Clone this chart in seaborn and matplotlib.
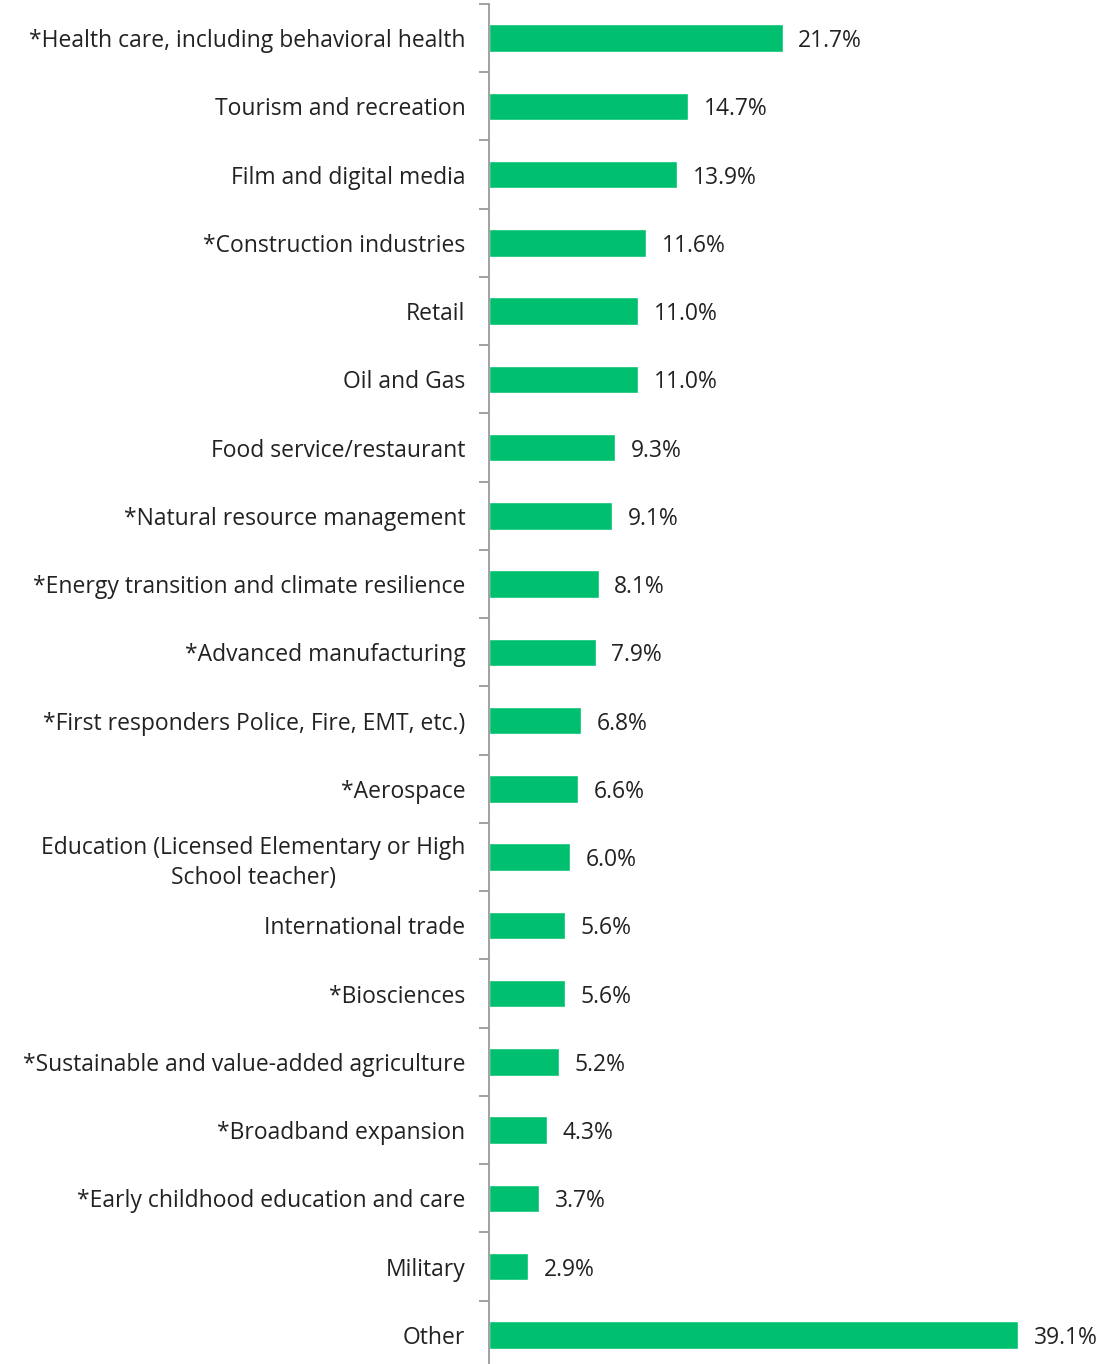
import matplotlib
matplotlib.use("Agg")
import matplotlib.pyplot as plt
import seaborn as sns
import pandas as pd
import numpy as np

categories = [
    "*Health care, including behavioral health",
    "Tourism and recreation",
    "Film and digital media",
    "*Construction industries",
    "Retail",
    "Oil and Gas",
    "Food service/restaurant",
    "*Natural resource management",
    "*Energy transition and climate resilience",
    "*Advanced manufacturing",
    "*First responders Police, Fire, EMT, etc.)",
    "*Aerospace",
    "Education (Licensed Elementary or High\nSchool teacher)",
    "International trade",
    "*Biosciences",
    "*Sustainable and value-added agriculture",
    "*Broadband expansion",
    "*Early childhood education and care",
    "Military",
    "Other",
]
values = [21.7, 14.7, 13.9, 11.6, 11.0, 11.0, 9.3, 9.1, 8.1, 7.9,
          6.8, 6.6, 6.0, 5.6, 5.6, 5.2, 4.3, 3.7, 2.9, 39.1]

df = pd.DataFrame({"category": categories, "value": values})

sns.set_theme(style="white")
plt.rcParams["font.family"] = ["Open Sans", "DejaVu Sans"]

W, H = 1108, 1364
fig = plt.figure(figsize=(W / 100, H / 100), dpi=100)
left, right = 489 / W, 1098 / W
top, bottom = 1 - 4 / H, -5 / H
ax = fig.add_axes([left, bottom, right - left, top - bottom])

sns.barplot(data=df, x="value", y="category", color="#00BF6F",
            width=0.4, saturation=1, ax=ax, orient="h")

ax.set_xlim(0, 45)
ax.set_ylim(len(categories) - 0.5, -0.5)
ax.set_xlabel("")
ax.set_ylabel("")
ax.set_xticks([])

for s in ["top", "right", "bottom"]:
    ax.spines[s].set_visible(False)
ax.spines["left"].set_color("#9a9a9a")
ax.spines["left"].set_linewidth(1.3)

text_color = "#222222"
ax.set_yticks(np.arange(len(categories)))
ax.set_yticklabels(categories, fontsize=16.5, color=text_color)
for lbl in ax.get_yticklabels():
    lbl.set_ha("right")
    lbl.set_multialignment("center")
    lbl.set_linespacing(1.3)
ax.tick_params(axis="y", which="major", left=True, length=0, pad=17)
ax.set_yticks(np.arange(-0.5, len(categories), 1), minor=True)
ax.tick_params(axis="y", which="minor", left=True, length=7, width=1.3,
               color="#9a9a9a", direction="out")

for i, v in enumerate(values):
    ax.text(v + 1.15, i, f"{v:.1f}%", va="center_baseline", ha="left",
            fontsize=16.5, color=text_color)

fig.savefig("out.png", dpi=100)
